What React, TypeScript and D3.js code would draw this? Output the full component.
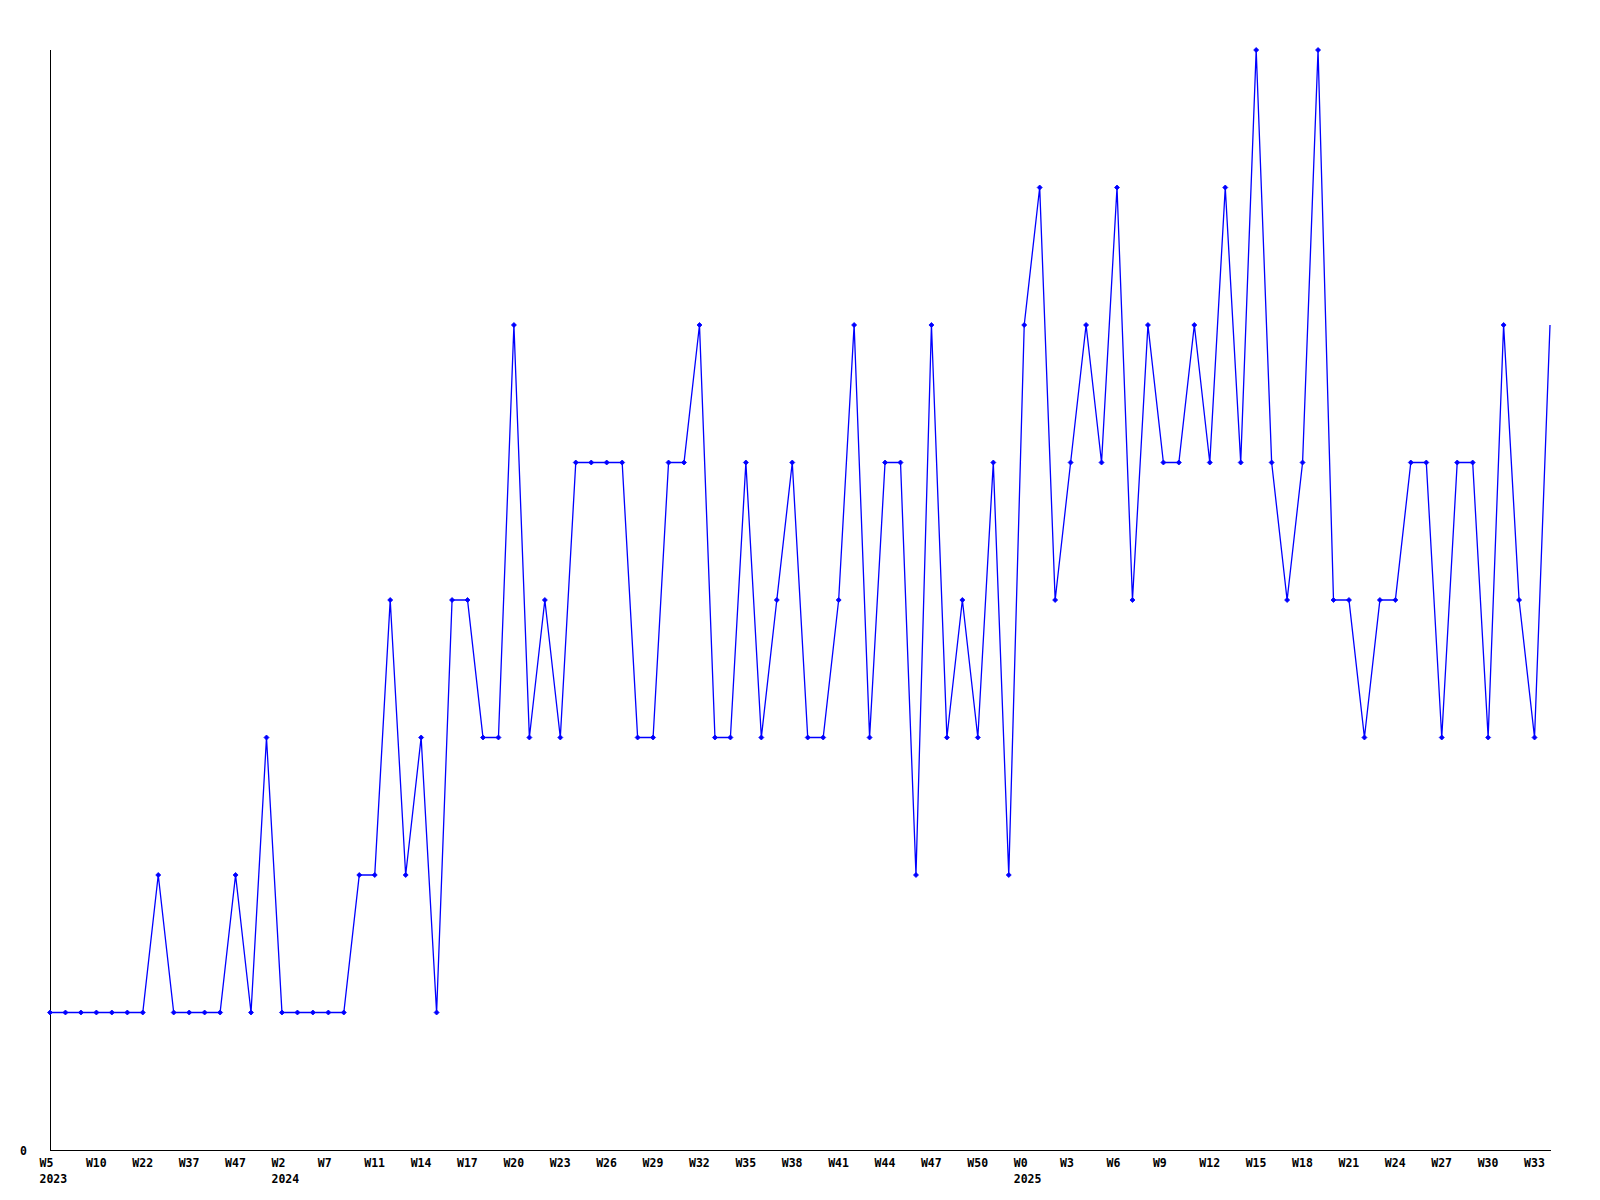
import React from "react";
import * as d3 from "d3";

// Weekly values (one per point, 98 points)
const values: number[] = [
  1, 1, 1, 1, 1, 1, 1, 2, 1, 1, 1, 1, 2, 1, 3, 1, 1, 1, 1, 1,
  2, 2, 4, 2, 3, 1, 4, 4, 3, 3, 6, 3, 4, 3, 5, 5, 5, 5, 3, 3,
  5, 5, 6, 3, 3, 5, 3, 4, 5, 3, 3, 4, 6, 3, 5, 5, 2, 6, 3, 4,
  3, 5, 2, 6, 7, 4, 5, 6, 5, 7, 4, 6, 5, 5, 6, 5, 7, 5, 8, 5,
  4, 5, 8, 4, 4, 3, 4, 4, 5, 5, 3, 5, 5, 3, 6, 4, 3, 6,
];

// Tick labels shown every third point
const tickIndices: number[] = [
  0, 3, 6, 9, 12, 15, 18, 21, 24, 27, 30, 33, 36, 39, 42, 45, 48, 51, 54, 57,
  60, 63, 66, 69, 72, 75, 78, 81, 84, 87, 90, 93, 96,
];
const tickLabels: string[] = [
  "W5", "W10", "W22", "W37", "W47", "W2", "W7", "W11", "W14", "W17", "W20",
  "W23", "W26", "W29", "W32", "W35", "W38", "W41", "W44", "W47", "W50", "W0",
  "W3", "W6", "W9", "W12", "W15", "W18", "W21", "W24", "W27", "W30", "W33",
];
const yearIndices: number[] = [0, 15, 63];
const yearLabels: string[] = ["2023", "2024", "2025"];

const yMin = 0;
const yMax = 8;

export default function App() {
  const W = 1600;
  const H = 1200;
  const left = 50;
  const right = 1550;
  const top = 50;
  const bottom = 1150;

  const x = d3.scaleLinear().domain([0, values.length - 1]).range([left, right]);
  const y = d3.scaleLinear().domain([yMin, yMax]).range([bottom, top]);

  const line = d3
    .line<number>()
    .x((_, i) => x(i))
    .y((d) => y(d));

  const font = "'DejaVu Sans Mono', monospace";
  const marker = (cx: number, cy: number) =>
    `M${cx - 2.5},${cy}L${cx},${cy - 2.5}L${cx + 2.5},${cy}L${cx},${cy + 2.5}Z`;

  return (
    <svg
      width={W}
      height={H}
      style={{ position: "absolute", left: 0, top: 0, background: "#fff" }}
    >
      <rect x={0} y={0} width={W} height={H} fill="#fff" />
      {/* axes */}
      <line x1={left + 0.5} x2={left + 0.5} y1={top} y2={bottom + 1} stroke="#000" strokeWidth={1} shapeRendering="crispEdges" />
      <line x1={left} x2={right + 1} y1={bottom + 0.5} y2={bottom + 0.5} stroke="#000" strokeWidth={1} shapeRendering="crispEdges" />

      {/* y label */}
      <text x={20} y={y(0) + 4.5} fontFamily={font} fontWeight="bold" fontSize={11.5} fill="#000">
        {String(yMin)}
      </text>

      {/* x tick labels */}
      {tickIndices.map((ti, k) => (
        <text key={"t" + k} x={x(ti) - 10.5} y={1166.5} fontFamily={font} fontWeight="bold" fontSize={11.5} fill="#000">
          {tickLabels[k]}
        </text>
      ))}
      {yearIndices.map((yi, k) => (
        <text key={"y" + k} x={x(yi) - 10.5} y={1182.5} fontFamily={font} fontWeight="bold" fontSize={11.5} fill="#000">
          {yearLabels[k]}
        </text>
      ))}

      {/* series */}
      <path d={line(values) || ""} fill="none" stroke="#0000ff" strokeWidth={1.3} />
      {values.slice(0, values.length - 1).map((v, i) => (
        <path key={"m" + i} d={marker(x(i), y(v))} fill="#0000ff" stroke="#0000ff" strokeWidth={0.8} />
      ))}
    </svg>
  );
}
